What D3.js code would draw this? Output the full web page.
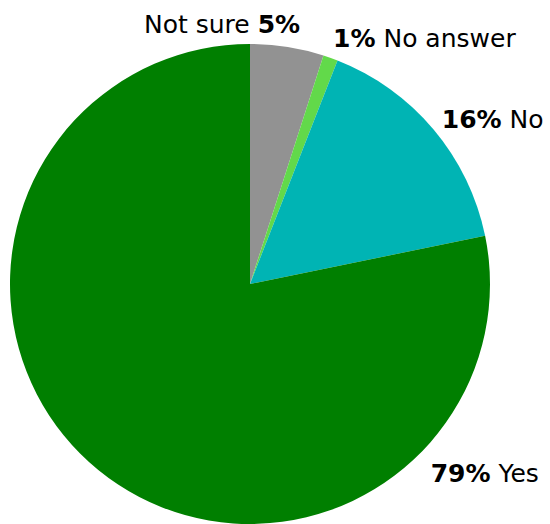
<!DOCTYPE html>
<html>
<head>
<meta charset="utf-8">
<script src="https://cdn.jsdelivr.net/npm/d3@7"></script>
<style>
  body { margin: 0; background: #fff; }
  text { font-family: "DejaVu Sans", sans-serif; font-size: 25px; fill: #000; }
</style>
</head>
<body>
<script>
// data
let categories = ['Not sure', 'No answer', 'No', 'Yes']
let values = [5, 1, 16, 79]
let colors = ['#929292', '#62d94a', '#00b4b4', '#007f00']

let width = 550,
    height = 524
let radius = 240
let cx = 250, cy = 284

let svg = d3.select('body').append('svg')
  .attr('width', width)
  .attr('height', height)

let pie = d3.pie().sort(null).value(d => d)
let arcs = pie(values)

let arc = d3.arc().innerRadius(0).outerRadius(radius)

let chart = svg.append('g')
  .attr('transform', `translate(${cx}, ${cy})`)

chart.selectAll('path')
  .data(arcs)
  .enter().append('path')
  .attr('d', arc)
  .attr('fill', (d, i) => colors[i])

// label placement: angle (degrees from top), radius, anchor, pct first?
let labelLayout = [
  {angle: 10.9, r: 265, anchor: 'end', pctFirst: false},
  {angle: 18.7, r: 259, anchor: 'start', pctFirst: true},
  {angle: 49.3, r: 253, anchor: 'start', pctFirst: true},
  {angle: 136.4, r: 262, anchor: 'start', pctFirst: true}
]

let labels = chart.selectAll('text.label')
  .data(arcs)
  .enter().append('text')
  .attr('class', 'label')
  .attr('x', (d, i) => labelLayout[i].r * Math.sin(labelLayout[i].angle * Math.PI / 180))
  .attr('y', (d, i) => -labelLayout[i].r * Math.cos(labelLayout[i].angle * Math.PI / 180))
  .attr('dy', '0.35em')
  .attr('text-anchor', (d, i) => labelLayout[i].anchor)

labels.each(function(d, i) {
  let t = d3.select(this)
  let pct = d.data + '%'
  if (labelLayout[i].pctFirst) {
    t.append('tspan').style('font-weight', 'bold').text(pct)
    t.append('tspan').text(' ' + categories[i])
  } else {
    t.append('tspan').text(categories[i] + ' ')
    t.append('tspan').style('font-weight', 'bold').text(pct)
  }
})
</script>
</body>
</html>
